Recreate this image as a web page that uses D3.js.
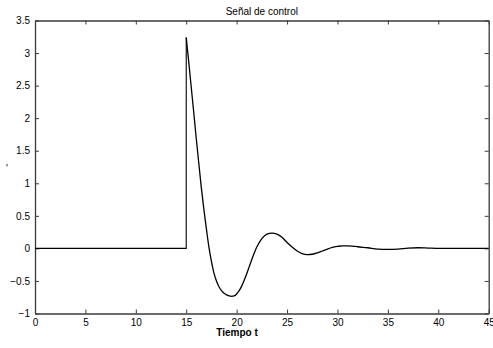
<!DOCTYPE html>
<html><head><meta charset="utf-8">
<script src="https://cdn.jsdelivr.net/npm/d3@7"></script>
<style>
html,body{margin:0;padding:0;background:#fff;}
svg{display:block;}
text{font-family:"Liberation Sans",Arial,Helvetica,sans-serif;}
</style>
</head><body>
<svg id="chart" width="493" height="348"></svg>
<script>
// ---- data ----
const titleText = "Señal de control";
const xLabelText = "Tiempo t";
const yLabelText = "'";
const xTicks = [0, 5, 10, 15, 20, 25, 30, 35, 40, 45];
const yTicks = [-1, -0.5, 0, 0.5, 1, 1.5, 2, 2.5, 3, 3.5];
// signal before the step (t < 15)
const tPre = [0, 15];
const uPre = [0, 0];
// signal after the step (t >= 15)
const tPost = [15, 15.25, 15.5, 15.75, 16, 16.25, 16.5, 16.75, 17, 17.25, 17.5, 17.75, 18, 18.25, 18.5, 18.75,
  19, 19.25, 19.5, 19.75, 20, 20.25, 20.5, 20.75, 21, 21.25, 21.5, 21.75, 22, 22.5, 23, 23.5, 24, 24.5, 25,
  25.5, 26, 26.5, 27, 27.5, 28, 28.5, 29, 29.5, 30, 30.5, 31, 31.5, 32, 33, 34, 35, 36, 37, 38, 39, 40, 45];
const uPost = [3.24, 2.86, 2.47, 2.08, 1.68, 1.30, 0.93, 0.60, 0.30, 0.02, -0.20, -0.38, -0.50, -0.59, -0.65, -0.69,
  -0.715, -0.73, -0.737, -0.73, -0.70, -0.65, -0.58, -0.49, -0.39, -0.28, -0.17, -0.07, 0.02, 0.15, 0.22, 0.235, 0.22, 0.17, 0.09,
  0.02, -0.04, -0.08, -0.095, -0.09, -0.07, -0.04, -0.01, 0.015, 0.03, 0.04, 0.04, 0.035, 0.025, 0.01, -0.01, -0.015, -0.01, 0.005, 0.01, 0.005, 0, 0];

// ---- drawing ----
const svg = d3.select("#chart");
const L = 35, R = 488.7, T = 20.5, B = 313.5;
const x = d3.scaleLinear().domain([0, 45]).range([L, R]);
const y = d3.scaleLinear().domain([-1, 3.5]).range([B, T]);
const frame = "#3a3a3a";
const fmt = v => (v < 0 ? "\u2212" : "") + String(Math.abs(v));

// axes (ticks inward on all sides)
const tk = 4;
const gB = svg.append("g").attr("transform", `translate(0,${B})`)
  .call(d3.axisBottom(x).tickValues(xTicks).tickSizeInner(-tk).tickSizeOuter(0).tickPadding(5).tickFormat(fmt));
const gT = svg.append("g").attr("transform", `translate(0,${T})`)
  .call(d3.axisTop(x).tickValues(xTicks).tickSizeInner(-tk).tickSizeOuter(0).tickFormat(""));
const gL = svg.append("g").attr("transform", `translate(${L},0)`)
  .call(d3.axisLeft(y).tickValues(yTicks).tickSizeInner(-tk).tickSizeOuter(0).tickPadding(5).tickFormat(fmt));
const gR = svg.append("g").attr("transform", `translate(${R},0)`)
  .call(d3.axisRight(y).tickValues(yTicks).tickSizeInner(-tk).tickSizeOuter(0).tickFormat(""));
[gB, gT, gL, gR].forEach(g => {
  g.select(".domain").attr("stroke", frame).attr("stroke-width", 1.3);
  g.selectAll(".tick line").attr("stroke", frame).attr("stroke-width", 1);
  g.selectAll(".tick text").attr("fill", "#000").attr("font-size", 10)
    .attr("font-family", "'Liberation Sans',Arial,sans-serif");
});

// signal
const line = d3.line().x(d => x(d[0])).y(d => y(d[1]));
const pre = tPre.map((t, i) => [t, uPre[i]]);
const post = tPost.map((t, i) => [t, uPost[i]]);
svg.append("path").datum(pre.concat([[tPost[0], uPost[0]]]))
  .attr("d", line.curve(d3.curveLinear)).attr("fill", "none").attr("stroke", "#000").attr("stroke-width", 1.1);
svg.append("path").datum(post)
  .attr("d", d3.line().x(d => x(d[0])).y(d => y(d[1])).curve(d3.curveMonotoneX))
  .attr("fill", "none").attr("stroke", "#000").attr("stroke-width", 1.3);

// texts
svg.append("text").attr("x", (L + R) / 2).attr("y", 15).attr("text-anchor", "middle")
  .attr("font-size", 10).text(titleText);
svg.append("text").attr("x", 237).attr("y", 336).attr("text-anchor", "middle")
  .attr("font-size", 10).attr("font-weight", "bold").text(xLabelText);
svg.append("text").attr("x", 7).attr("y", 172).attr("text-anchor", "middle")
  .attr("font-size", 10).text(yLabelText);
</script>
</body></html>
